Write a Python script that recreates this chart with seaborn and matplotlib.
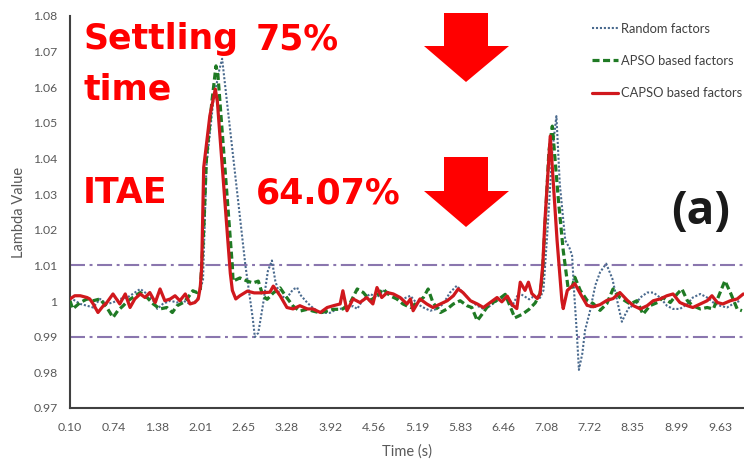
import numpy as np
import pandas as pd
import matplotlib
matplotlib.use("Agg")
import matplotlib.pyplot as plt
from matplotlib.patches import Polygon
import seaborn as sns

# ---------------- data ----------------
capso_t = [0.10, 0.17, 0.25, 0.35, 0.39, 0.44, 0.51, 0.58, 0.64, 0.73,
           0.83, 0.91, 0.98, 1.05, 1.13, 1.20, 1.27, 1.35, 1.42, 1.49,
           1.57, 1.64, 1.71, 1.79, 1.86, 1.93, 1.98, 2.01, 2.03, 2.06,
           2.15, 2.23, 2.26, 2.45, 2.48, 2.53, 2.59, 2.70, 2.80, 2.89,
           3.03, 3.08, 3.18, 3.28, 3.37, 3.47, 3.58, 3.66, 3.77, 3.87,
           3.96, 4.06, 4.10, 4.16, 4.25, 4.35, 4.45, 4.54, 4.60, 4.67,
           4.75, 4.84, 4.94, 5.04, 5.09, 5.13, 5.23, 5.33, 5.42, 5.53,
           5.63, 5.72, 5.79, 5.86, 5.97, 6.07, 6.16, 6.26, 6.36, 6.43,
           6.51, 6.58, 6.65, 6.70, 6.77, 6.82, 6.87, 6.95, 6.99, 7.03,
           7.06, 7.14, 7.24, 7.31, 7.33, 7.39, 7.50, 7.58, 7.68, 7.77,
           7.87, 7.97, 8.06, 8.16, 8.27, 8.36, 8.46, 8.56, 8.65, 8.75,
           8.85, 8.94, 9.04, 9.15, 9.23, 9.34, 9.44, 9.51, 9.59, 9.67,
           9.78, 9.88, 9.97]
capso_v = [1.0006, 1.0015, 1.0015, 1.0010, 1.0006, 0.9992, 0.9968, 0.9985, 0.9996, 1.0020,
           0.9992, 1.0020, 0.9982, 1.0006, 1.0020, 1.0010, 1.0024, 0.9996, 1.0034, 1.0001,
           1.0006, 1.0015, 1.0001, 1.0020, 0.9992, 0.9996, 1.0006, 1.0040, 1.0095, 1.0375,
           1.0520, 1.0595, 1.0560, 1.0078, 1.0030, 1.0006, 1.0015, 1.0028, 1.0023, 1.0023,
           1.0025, 1.0042, 1.0015, 0.9982, 0.9978, 0.9987, 0.9978, 0.9978, 0.9968, 0.9982,
           0.9987, 0.9992, 1.0029, 0.9973, 1.0006, 0.9996, 1.0010, 0.9992, 1.0038, 1.0010,
           1.0024, 1.0020, 1.0010, 0.9992, 1.0006, 0.9973, 1.0006, 0.9992, 0.9982, 0.9992,
           1.0001, 1.0015, 1.0034, 1.0024, 1.0001, 0.9992, 0.9982, 0.9996, 1.0010, 0.9998,
           1.0014, 0.9990, 0.9979, 1.0053, 1.0030, 1.0053, 1.0021, 1.0007, 1.0020, 1.0100,
           1.0220, 1.0463, 1.0170, 1.0002, 0.9979, 1.0030, 1.0049, 1.0021, 0.9988, 0.9984,
           0.9990, 1.0002, 1.0007, 1.0024, 1.0002, 0.9987, 0.9978, 0.9987, 1.0001, 1.0006,
           1.0015, 1.0020, 0.9996, 0.9987, 0.9982, 0.9992, 1.0001, 1.0015, 0.9996, 0.9992,
           1.0001, 1.0006, 1.0020]

apso_t = [0.10, 0.14, 0.25, 0.35, 0.44, 0.54, 0.64, 0.73, 0.80, 0.88,
          0.95, 1.02, 1.13, 1.23, 1.32, 1.42, 1.52, 1.60, 1.67, 1.76,
          1.83, 1.90, 1.96, 2.01, 2.06, 2.10, 2.18, 2.24, 2.27, 2.48,
          2.49, 2.59, 2.70, 2.78, 2.86, 2.93, 2.99, 3.08, 3.18, 3.28,
          3.37, 3.47, 3.58, 3.66, 3.77, 3.87, 3.96, 4.06, 4.10, 4.21,
          4.31, 4.40, 4.50, 4.60, 4.69, 4.79, 4.89, 4.98, 5.09, 5.19,
          5.28, 5.35, 5.42, 5.53, 5.63, 5.72, 5.82, 5.92, 5.99, 6.07,
          6.14, 6.21, 6.30, 6.39, 6.48, 6.58, 6.62, 6.73, 6.83, 6.92,
          6.99, 7.02, 7.06, 7.12, 7.17, 7.26, 7.33, 7.40, 7.46, 7.50,
          7.58, 7.68, 7.77, 7.87, 7.97, 8.06, 8.16, 8.31, 8.41, 8.50,
          8.60, 8.71, 8.79, 8.90, 9.00, 9.07, 9.15, 9.23, 9.34, 9.44,
          9.53, 9.60, 9.70, 9.78, 9.88, 9.95]
apso_v = [1.0001, 0.9978, 0.9996, 1.0006, 1.0001, 1.0006, 0.9982, 0.9954, 0.9973, 0.9987,
          1.0001, 1.0010, 1.0024, 1.0010, 0.9992, 0.9978, 0.9982, 0.9968, 0.9987, 0.9996,
          1.0010, 1.0029, 1.0024, 1.0030, 1.0200, 1.0400, 1.0560, 1.0660, 1.0630, 1.0098,
          1.0056, 1.0065, 1.0056, 1.0051, 1.0056, 1.0014, 1.0005, 1.0023, 1.0037, 1.0009,
          0.9986, 0.9972, 0.9977, 0.9972, 0.9967, 0.9972, 0.9977, 0.9977, 0.9978, 0.9996,
          1.0034, 1.0024, 1.0001, 1.0015, 1.0034, 1.0015, 1.0006, 0.9992, 0.9982, 0.9996,
          1.0010, 1.0034, 0.9996, 0.9968, 0.9978, 0.9992, 1.0001, 0.9987, 0.9982, 0.9945,
          0.9963, 0.9982, 0.9996, 1.0006, 1.0019, 0.9972, 0.9953, 0.9963, 0.9977, 0.9995,
          1.0021, 1.0060, 1.0200, 1.0420, 1.0491, 1.0282, 1.0142, 1.0039, 1.0039, 1.0067,
          1.0030, 1.0002, 0.9993, 0.9974, 0.9993, 1.0034, 1.0010, 0.9992, 1.0001, 0.9963,
          0.9987, 0.9996, 1.0010, 0.9996, 1.0020, 1.0034, 1.0001, 0.9987, 0.9978, 0.9982,
          0.9978, 1.0010, 1.0057, 1.0024, 0.9978, 0.9973]

random_t = [0.10, 0.25, 0.35, 0.44, 0.54, 0.64, 0.73, 0.83, 0.94, 1.02,
            1.13, 1.23, 1.32, 1.38, 1.46, 1.57, 1.67, 1.76, 1.86, 1.96,
            2.05, 2.10, 2.20, 2.29, 2.33, 2.67, 2.78, 2.81, 2.86, 2.93,
            3.00, 3.06, 3.11, 3.18, 3.28, 3.37, 3.43, 3.47, 3.58, 3.66,
            3.77, 3.91, 4.01, 4.16, 4.25, 4.31, 4.40, 4.50, 4.60, 4.69,
            4.79, 4.89, 4.98, 5.09, 5.19, 5.28, 5.38, 5.48, 5.57, 5.67,
            5.77, 5.86, 5.97, 6.07, 6.16, 6.26, 6.36, 6.48, 6.58, 6.68,
            6.83, 6.89, 6.99, 7.04, 7.10, 7.17, 7.23, 7.28, 7.36, 7.42,
            7.46, 7.49, 7.53, 7.56, 7.61, 7.65, 7.72, 7.80, 7.87, 7.96,
            8.05, 8.12, 8.19, 8.24, 8.31, 8.36, 8.46, 8.56, 8.65, 8.75,
            8.85, 8.94, 9.04, 9.15, 9.23, 9.34, 9.44, 9.53, 9.63, 9.73,
            9.82, 9.92]
random_v = [1.0010, 0.9992, 0.9987, 0.9982, 1.0006, 0.9992, 0.9996, 1.0006, 1.0010, 1.0020,
            1.0034, 1.0020, 1.0001, 0.9978, 0.9992, 1.0001, 0.9996, 1.0001, 0.9992, 1.0001,
            1.0060, 1.0380, 1.0560, 1.0650, 1.0680, 1.0102, 0.9950, 0.9899, 0.9911, 0.9991,
            1.0084, 1.0114, 1.0056, 1.0014, 1.0009, 1.0033, 1.0038, 1.0019, 0.9995, 0.9981,
            0.9967, 0.9967, 0.9977, 0.9981, 0.9986, 0.9978, 1.0006, 1.0020, 1.0010, 1.0029,
            1.0024, 1.0010, 1.0006, 1.0015, 0.9992, 0.9982, 0.9973, 0.9978, 0.9992, 1.0024,
            1.0043, 1.0024, 1.0001, 0.9987, 0.9978, 0.9987, 1.0001, 1.0009, 0.9986, 1.0023,
            1.0005, 1.0012, 1.0009, 1.0030, 1.0200, 1.0420, 1.0519, 1.0328, 1.0170, 1.0150,
            1.0128, 1.0025, 0.9909, 0.9807, 0.9853, 0.9918, 0.9970, 1.0044, 1.0081, 1.0105,
            1.0063, 1.0002, 0.9942, 0.9963, 0.9987, 0.9982, 1.0010, 1.0024, 1.0024, 1.0010,
            0.9987, 0.9978, 0.9978, 0.9992, 1.0010, 1.0020, 1.0010, 0.9996, 0.9987, 0.9982,
            0.9992, 1.0001]

series_labels = ["Random factors", "APSO based factors", "CAPSO based factors"]
band_levels = [1.01, 0.99]
x_tick_labels = ["0.10", "0.74", "1.38", "2.01", "2.65", "3.28", "3.92", "4.56",
                 "5.19", "5.83", "6.46", "7.08", "7.72", "8.35", "8.99", "9.63"]
y_tick_values = [0.97, 0.98, 0.99, 1.00, 1.01, 1.02, 1.03, 1.04, 1.05, 1.06, 1.07, 1.08]
y_tick_labels = ["0.97", "0.98", "0.99", "1", "1.01", "1.02", "1.03", "1.04",
                 "1.05", "1.06", "1.07", "1.08"]

# ---------------- figure ----------------
sns.set_theme(style="white")
plt.rcParams['font.family'] = ['Lato', 'DejaVu Sans']

W, H = 744, 462
fig = plt.figure(figsize=(W / 100, H / 100), dpi=100)
fig.patch.set_facecolor("white")


def fx(x):
    return x / W


def fy(y):
    return 1 - y / H


ax = fig.add_axes([fx(70), fy(408), (W - 70) / W, (408 - 16) / H])

frames = []
for name, t, v in zip(series_labels,
                      [random_t, apso_t, capso_t],
                      [random_v, apso_v, capso_v]):
    frames.append(pd.DataFrame({"Time (s)": t, "Lambda": v, "series": name}))
df = pd.concat(frames, ignore_index=True)

styles = {
    "Random factors": dict(color="#4A6A8E", linewidth=1.5, linestyle=(0, (1.0, 0.9)), zorder=3),
    "APSO based factors": dict(color="#1F7A24", linewidth=2.3, linestyle=(0, (2.2, 1.1)), zorder=4),
    "CAPSO based factors": dict(color="#D0181D", linewidth=2.3, linestyle="-", zorder=5),
}
for name in series_labels:
    sub = df[df["series"] == name]
    sns.lineplot(data=sub, x="Time (s)", y="Lambda", ax=ax, label=name,
                 estimator=None, sort=False, **styles[name])

for lvl in band_levels:
    ax.axhline(lvl, color="#8A76AE", linewidth=1.5,
               linestyle=(0, (7.2, 2.2, 1.4, 2.2)), zorder=2)

ax.set_xlim(0.10, 9.98)
ax.set_ylim(0.97, 1.08)
ax.set_xticks([float(s) for s in x_tick_labels])
ax.set_xticklabels(x_tick_labels)
ax.set_yticks(y_tick_values)
ax.set_yticklabels(y_tick_labels)

for side in ["top", "right"]:
    ax.spines[side].set_visible(False)
for side in ["left", "bottom"]:
    ax.spines[side].set_color("#404040")
    ax.spines[side].set_linewidth(1.5)

ax.tick_params(axis="both", direction="in", length=4, width=1.3,
               color="#404040", labelcolor="#595959", labelsize=8.8, pad=9)
ax.tick_params(axis="x", pad=10)

ax.set_xlabel("Time (s)", fontsize=10.5, color="#595959", labelpad=8)
ax.set_ylabel("Lambda Value", fontsize=10.5, color="#595959", labelpad=5)

leg = ax.legend(loc="upper left", bbox_to_anchor=(fx(592), fy(23)),
                bbox_transform=fig.transFigure, frameon=False, fontsize=9.3,
                labelspacing=1.55, handlelength=2.0, handletextpad=0.25,
                borderpad=0, borderaxespad=0)
for txt in leg.get_texts():
    txt.set_color("#404040")

# ---------------- annotations ----------------
red = "#FF0000"
big = dict(color=red, fontsize=25, fontweight="bold", family="DejaVu Sans",
           va="baseline", ha="left")
fig.text(fx(83), fy(49), "Settling", **big)
fig.text(fx(83), fy(99), "time", **big)
fig.text(fx(256), fy(49), "75%", **big)
fig.text(fx(83), fy(203), "ITAE", **big)
fig.text(fx(256), fy(203), "64.07%", **big)
fig.text(fx(701), fy(212), "(a)", ha="center", va="center", fontsize=33,
         fontweight="bold", family="Open Sans", color="#1A1A1A")

for top, base, tip in [(13, 46, 82), (157, 191, 227)]:
    pts = [(444, top), (488, top), (488, base), (509, base), (466, tip),
           (424, base), (444, base)]
    poly = Polygon([(fx(px), fy(py)) for px, py in pts], closed=True,
                   transform=fig.transFigure, facecolor=red, edgecolor="none",
                   zorder=10)
    fig.patches.append(poly)

fig.savefig("out.png", dpi=100, facecolor="white")
